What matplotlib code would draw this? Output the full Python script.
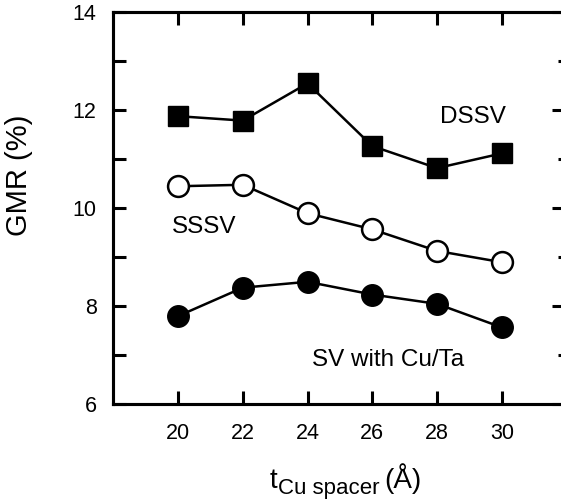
import matplotlib
matplotlib.use("Agg")
import matplotlib.pyplot as plt
from matplotlib.ticker import MultipleLocator
from matplotlib.transforms import IdentityTransform

plt.rcParams['font.family'] = ['Liberation Sans', 'DejaVu Sans']

thickness = [20, 22, 24, 26, 28, 30]
dssv = [11.88, 11.79, 12.55, 11.27, 10.82, 11.12]
sssv = [10.45, 10.48, 9.90, 9.57, 9.13, 8.90]
sv_cuta = [7.80, 8.38, 8.50, 8.24, 8.05, 7.57]
xticks = [20, 22, 24, 26, 28, 30]
yticks = [6, 8, 10, 12, 14]

W, H = 561, 504
fig = plt.figure(figsize=(W / 100, H / 100), dpi=100)
ax = fig.add_axes([113.3 / W, (H - 404.3) / H, (566.5 - 113.3) / W, (404.3 - 12.3) / H])

lw = 1.8
ax.plot(thickness, dssv, '-s', color='black', lw=lw, ms=15, mfc='black', mec='black', zorder=3)
ax.plot(thickness, sssv, '-o', color='black', lw=lw, ms=15, mfc='white', mec='black', mew=1.8, zorder=3)
ax.plot(thickness, sv_cuta, '-o', color='black', lw=lw, ms=15.5, mfc='black', mec='black', zorder=3)

ax.set_xlim(18, 32)
ax.set_ylim(6, 14)
ax.set_xticks(xticks)
ax.set_yticks(yticks)
ax.yaxis.set_minor_locator(MultipleLocator(1))

for s in ax.spines.values():
    s.set_linewidth(2.2)

ax.tick_params(axis='x', which='major', direction='in', length=9.4, width=2.2,
               top=True, bottom=True, labelsize=15.5, pad=13.5)
ax.tick_params(axis='y', which='both', direction='in', length=9.4, width=2.2,
               left=True, right=False, labelsize=15.5, pad=12)

ax2 = ax.twinx()
ax2.set_ylim(6, 14)
ax2.set_yticks(yticks)
ax2.yaxis.set_minor_locator(MultipleLocator(1))
ax2.tick_params(axis='y', which='major', direction='in', length=10.5, width=2.2, labelright=False)
ax2.tick_params(axis='y', which='minor', direction='in', length=6.5, width=2.2, labelright=False)
for s in ax2.spines.values():
    s.set_linewidth(2.2)

ax.text(29.1, 11.86, 'DSSV', fontsize=17.5, ha='center', va='center')
ax.text(20.8, 9.62, 'SSSV', fontsize=17.5, ha='center', va='center')
ax.text(26.5, 6.9, 'SV with Cu/Ta', fontsize=17.5, ha='center', va='center')

ax.set_ylabel('GMR (%)', fontsize=21)
ax.yaxis.set_label_coords((33 - 113.3) / (566.5 - 113.3), (404.3 - 175) / 392)

# x label: t with subscript "Cu spacer" and (Å)
tr = IdentityTransform()
base = H - 488
fig.text(270, base, 't', fontsize=20, transform=tr, ha='left', va='baseline')
fig.text(278, base - 6, 'Cu spacer', fontsize=16, transform=tr, ha='left', va='baseline')
fig.text(384, base, '(Å)', fontsize=20, transform=tr, ha='left', va='baseline')

fig.savefig('out.png', dpi=100)
